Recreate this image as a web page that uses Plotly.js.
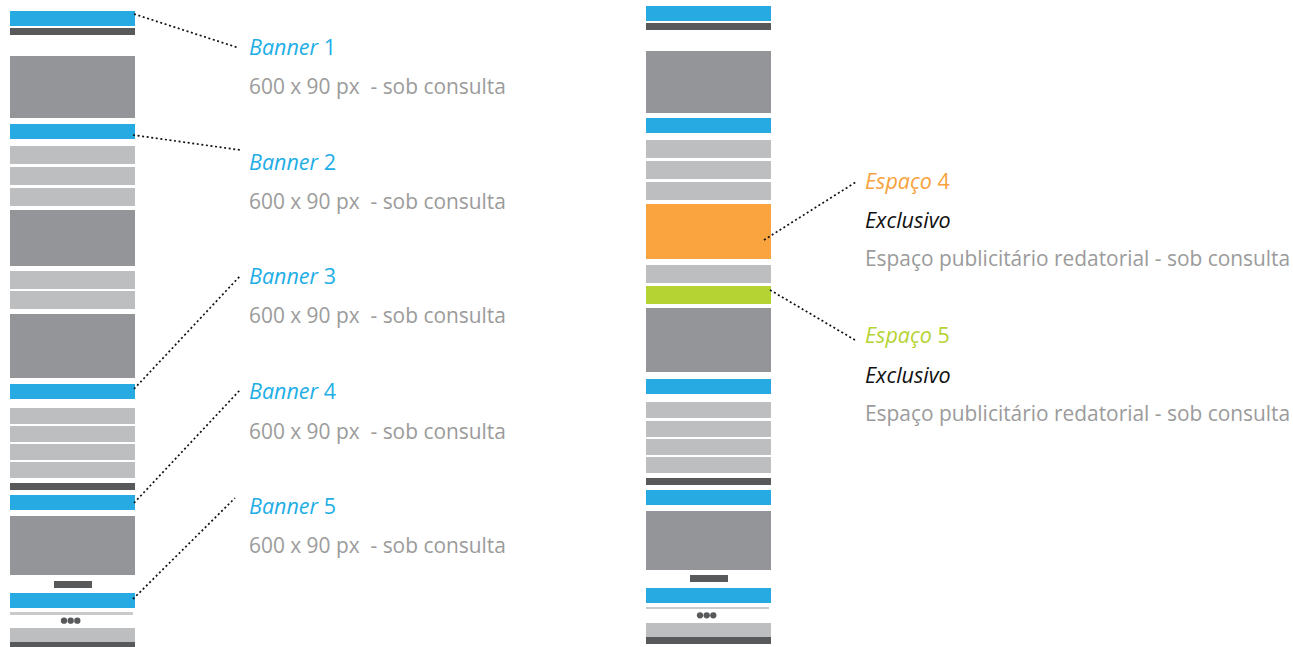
<!DOCTYPE html>
<html>
<head>
<meta charset="utf-8">
<script src="https://cdn.plot.ly/plotly-3.0.1.min.js"></script>
<style>
  html, body { margin: 0; padding: 0; background: #ffffff; }
  #chart { width: 1293px; height: 647px; }
</style>
</head>
<body>
<div id="chart"></div>
<script>
// ---- Data: page mock-up blocks (top / bottom in page pixels, and kind) ----
const leftTop    = [11, 28, 56, 124, 146, 167, 188, 210, 271, 291, 314, 384, 408, 426, 444, 462, 483, 495, 516, 581, 593, 612, 628, 642];
const leftBottom = [26, 35, 118, 139, 164, 185, 206, 266, 289, 309, 378, 399, 424, 442, 460, 478, 490, 510, 575, 588, 608, 615, 642, 650];
const leftKind   = ["banner","bar","image","banner","row","row","row","image","row","row","image","banner","row","row","row","row","bar","banner","image","tab","banner","rule","row","bar"];

const rightTop    = [6, 23, 51, 118, 140, 161, 182, 204, 265, 286, 308, 379, 402, 421, 439, 457, 478, 490, 511, 575, 588, 607, 623, 637];
const rightBottom = [21, 30, 113, 133, 158, 179, 200, 259, 283, 304, 372, 394, 418, 437, 455, 473, 485, 505, 570, 582, 603, 609, 637, 644];
const rightKind   = ["banner","bar","image","banner","row","row","row","space4","row","space5","image","banner","row","row","row","row","bar","banner","image","tab","banner","rule","row","bar"];

// pagination dots
const dotsLeftY  = 620.7;
const dotsRightY = 615.3;
const dotsX      = [64, 70.7, 77.3];

// ---- Labels ----
const bannerTitles = ["Banner 1", "Banner 2", "Banner 3", "Banner 4", "Banner 5"];
const bannerSub    = "600 x 90 px\u00a0 - sob consulta";
const bannerTitleY = [46, 161, 275, 390, 505];
const bannerSubY   = [86, 201, 315, 431, 545];

const spaceTitles = ["Espaço 4", "Espaço 5"];
const spaceExcl   = "Exclusivo";
const spaceDesc   = "Espaço publicitário redatorial - sob consulta";
const spaceTitleY = [180, 334];
const spaceExclY  = [219, 374];
const spaceDescY  = [258, 413];

// ---- Leader lines (start at block edge, end at label) ----
const leaderX0 = [134, 133, 134, 134, 133, 764, 770];
const leaderY0 = [14, 135, 389, 503, 599, 240, 290];
const leaderX1 = [239, 240, 241, 240, 235, 856, 855];
const leaderY1 = [48, 150, 275, 390, 498, 182, 340];

// ---- Styles ----
const kindColor = {
  banner: "#27aae1", bar: "#58595b", image: "#939598", row: "#bcbec0",
  tab: "#58595b", rule: "#c9cacc", space4: "#f9a43f", space5: "#b6d334"
};
const colLeftX = 72.5, colRightX = 708.5, colW = 125;
const kindWidth = { tab: 38, rule: 123 };
const kindOffset = { tab: 0.5, rule: -1 };

const traces = [];
function addColumn(tops, bottoms, kinds, cx) {
  const groups = {};
  kinds.forEach((k, i) => {
    if (!groups[k]) groups[k] = { x: [], base: [], y: [], w: [] };
    groups[k].x.push(cx + (kindOffset[k] || 0));
    groups[k].base.push(tops[i]);
    groups[k].y.push(bottoms[i] - tops[i]);
    groups[k].w.push(kindWidth[k] || colW);
  });
  Object.keys(groups).forEach(k => {
    const g = groups[k];
    traces.push({
      type: "bar", x: g.x, y: g.y, base: g.base, width: g.w,
      marker: { color: kindColor[k], line: { width: 0 } },
      hoverinfo: "skip", showlegend: false
    });
  });
}
addColumn(leftTop, leftBottom, leftKind, colLeftX);
addColumn(rightTop, rightBottom, rightKind, colRightX);

// dots
traces.push({
  type: "scatter", mode: "markers",
  x: dotsX.concat(dotsX.map(v => v + 636)),
  y: dotsX.map(() => dotsLeftY).concat(dotsX.map(() => dotsRightY)),
  marker: { color: "#58595b", size: 6.3 },
  hoverinfo: "skip", showlegend: false
});

// leaders
const lx = [], ly = [];
leaderX0.forEach((v, i) => {
  lx.push(v, leaderX1[i], null);
  ly.push(leaderY0[i], leaderY1[i], null);
});
traces.push({
  type: "scatter", mode: "lines", x: lx, y: ly,
  line: { color: "#111111", width: 1.7, dash: "2px,2.6px" },
  hoverinfo: "skip", showlegend: false
});

// annotations
const FONT = "Open Sans, Noto Sans, sans-serif";
const TITLE_SIZE = 21.5;
const TEXT_SIZE = 20.9;
const annotations = [];
bannerTitles.forEach((t, i) => {
  const parts = t.split(" ");
  annotations.push({
    x: 247, y: bannerTitleY[i], xref: "x", yref: "y", xanchor: "left", yanchor: "middle",
    text: "<i>" + parts[0] + "</i> " + parts[1], showarrow: false,
    font: { family: FONT, size: TITLE_SIZE, color: "#1daee6" }
  });
  annotations.push({
    x: 247, y: bannerSubY[i], xref: "x", yref: "y", xanchor: "left", yanchor: "middle",
    text: bannerSub, showarrow: false,
    font: { family: FONT, size: TEXT_SIZE, color: "#9b9b9b" }
  });
});
const spaceColors = ["#f7a23c", "#b6d334"];
spaceTitles.forEach((t, i) => {
  const parts = t.split(" ");
  annotations.push({
    x: 863, y: spaceTitleY[i], xref: "x", yref: "y", xanchor: "left", yanchor: "middle",
    text: "<i>" + parts[0] + "</i> " + parts[1], showarrow: false,
    font: { family: FONT, size: TITLE_SIZE, color: spaceColors[i] }
  });
  annotations.push({
    x: 863, y: spaceExclY[i], xref: "x", yref: "y", xanchor: "left", yanchor: "middle",
    text: "<i>" + spaceExcl + "</i>", showarrow: false,
    font: { family: FONT, size: TITLE_SIZE, color: "#111111" }
  });
  annotations.push({
    x: 863, y: spaceDescY[i], xref: "x", yref: "y", xanchor: "left", yanchor: "middle",
    text: spaceDesc, showarrow: false,
    font: { family: FONT, size: TEXT_SIZE, color: "#9b9b9b" }
  });
});

const layout = {
  width: 1293, height: 647,
  margin: { l: 0, r: 0, t: 0, b: 0 },
  paper_bgcolor: "#ffffff", plot_bgcolor: "#ffffff",
  barmode: "overlay",
  xaxis: { range: [0, 1293], visible: false, fixedrange: true },
  yaxis: { range: [647, 0], visible: false, fixedrange: true },
  annotations: annotations,
  showlegend: false
};

Plotly.newPlot("chart", traces, layout, { staticPlot: true, displayModeBar: false });
</script>
</body>
</html>
